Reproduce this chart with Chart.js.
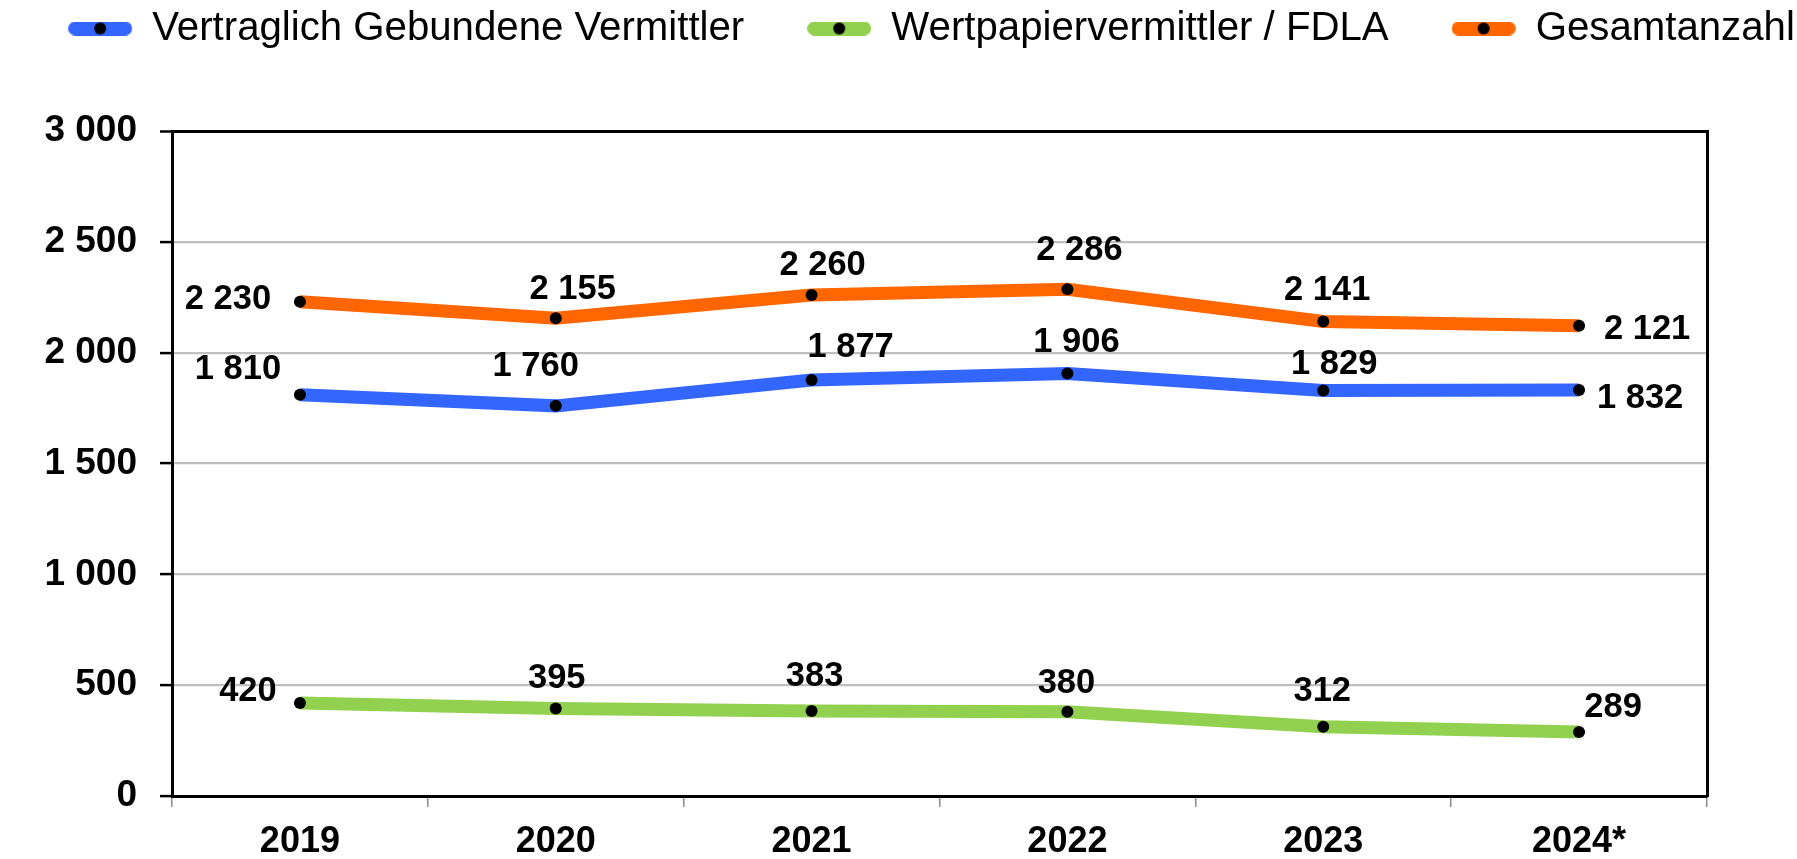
<!DOCTYPE html>
<html lang="de">
<head>
<meta charset="utf-8">
<title>Vermittler 2019–2024</title>
<script src="https://cdn.jsdelivr.net/npm/chart.js@4.4.1/dist/chart.umd.min.js"></script>
<style>
  html, body { margin: 0; padding: 0; background: #fff; }
  #wrap { width: 1797px; height: 859px; position: relative; }
</style>
</head>
<body>
<div id="wrap"><canvas id="chart"></canvas></div>
<script>
const years = ['2019', '2020', '2021', '2022', '2023', '2024*'];
const gebundene = [1810, 1760, 1877, 1906, 1829, 1832];
const fdla = [420, 395, 383, 380, 312, 289];
const gesamt = [2230, 2155, 2260, 2286, 2141, 2121];
const yTicks = [0, 500, 1000, 1500, 2000, 2500, 3000];
const seriesNames = ['Vertraglich Gebundene Vermittler', 'Wertpapiervermittler / FDLA', 'Gesamtanzahl'];
const seriesColors = ['#3366ff', '#92d050', '#ff6600'];

// where each value label sits relative to its point (dx, dy in px)
const labelOffsets = [
  [[-62, -25], [-20, -39], [39, -32], [9, -31], [11, -26], [61, 9]],
  [[-52, -11], [1, -30], [3, -35], [-1, -28], [-1, -35], [34, -24]],
  [[-72, -2], [17, -29], [11, -30], [12, -39], [4, -31], [68, 4]]
];

const FONT = '"Liberation Sans", Arial, sans-serif';
const fmt = v => String(v).replace(/\B(?=(\d{3})+(?!\d))/g, ' ');

// legend swatch: thick rounded line with a black dot
function makeMarker(color) {
  const c = document.createElement('canvas');
  c.width = 64;
  c.height = 14;
  const g = c.getContext('2d');
  g.strokeStyle = color;
  g.lineWidth = 14;
  g.lineCap = 'round';
  g.beginPath();
  g.moveTo(7, 7);
  g.lineTo(57, 7);
  g.stroke();
  g.fillStyle = '#000';
  g.beginPath();
  g.arc(32, 7, 6, 0, Math.PI * 2);
  g.fill();
  return c;
}
const markers = seriesColors.map(makeMarker);

const pointLabels = {
  id: 'pointLabels',
  afterDatasetsDraw(chart) {
    const ctx = chart.ctx;
    ctx.save();
    ctx.font = 'bold 34.5px ' + FONT;
    ctx.fillStyle = '#000';
    ctx.textAlign = 'center';
    ctx.textBaseline = 'middle';
    chart.data.datasets.forEach((ds, i) => {
      chart.getDatasetMeta(i).data.forEach((pt, j) => {
        const [dx, dy] = labelOffsets[i][j];
        ctx.fillText(fmt(ds.data[j]), pt.x + dx, pt.y + dy);
      });
    });
    ctx.restore();
  }
};

const seriesData = [gebundene, fdla, gesamt];

new Chart(document.getElementById('chart'), {
  type: 'line',
  data: {
    labels: years,
    datasets: seriesData.map((d, i) => ({
      label: seriesNames[i],
      data: d,
      borderColor: seriesColors[i],
      backgroundColor: seriesColors[i],
      borderWidth: 13,
      tension: 0,
      fill: false,
      pointRadius: 6,
      pointBackgroundColor: '#000',
      pointBorderWidth: 0,
      yAxisID: 'y'
    }))
  },
  options: {
    responsive: true,
    maintainAspectRatio: false,
    animation: false,
    events: [],
    layout: { padding: { top: -54.6, left: -60, right: -126, bottom: 0 } },
    scales: {
      x: {
        offset: true,
        grid: { offset: true, drawOnChartArea: false, drawTicks: true, tickLength: 11, color: '#8c8c8c', lineWidth: 1.5 },
        border: { display: true, color: '#000', width: 3 },
        ticks: { color: '#000', font: { family: FONT, size: 36, weight: 'bold' }, padding: 13.5, maxRotation: 0, autoSkip: false },
        afterFit: s => { s.height = 63; }
      },
      y: {
        min: 0,
        max: 3000,
        afterBuildTicks: s => { s.ticks = yTicks.map(v => ({ value: v })); },
        grid: {
          color: c => (c.tick && c.tick.value === 3000 ? '#000' : '#bfbfbf'),
          lineWidth: c => (c.tick && c.tick.value === 3000 ? 3 : 2.2),
          tickColor: '#000',
          tickLength: 12,
          tickWidth: 2.5
        },
        border: { color: '#000', width: 3 },
        ticks: { color: '#000', font: { family: FONT, size: 37, weight: 'bold' }, padding: 23, callback: v => fmt(v) },
        afterFit: s => { s.width = 232; }
      },
      y2: {
        position: 'right',
        min: 0,
        max: 3000,
        grid: { display: false, drawTicks: false },
        border: { color: '#000', width: 3 },
        ticks: { display: false },
        afterFit: s => { s.width = 216; }
      }
    },
    plugins: {
      legend: {
        position: 'top',
        align: 'center',
        labels: {
          usePointStyle: true,
          pointStyleWidth: 64,
          padding: 63,
          color: '#000',
          font: { family: FONT, size: 40.2 },
          generateLabels: chart => chart.data.datasets.map((ds, i) => ({
            text: ds.label,
            pointStyle: markers[i],
            fillStyle: ds.borderColor,
            strokeStyle: ds.borderColor,
            lineWidth: 0,
            fontColor: '#000',
            hidden: false,
            datasetIndex: i
          }))
        }
      },
      subtitle: {
        display: true,
        text: '',
        position: 'top',
        weight: 500,
        font: { size: 10, lineHeight: 1 },
        padding: { top: 0, bottom: 62.4 }
      },
      tooltip: { enabled: false }
    }
  },
  plugins: [pointLabels]
});
</script>
</body>
</html>
